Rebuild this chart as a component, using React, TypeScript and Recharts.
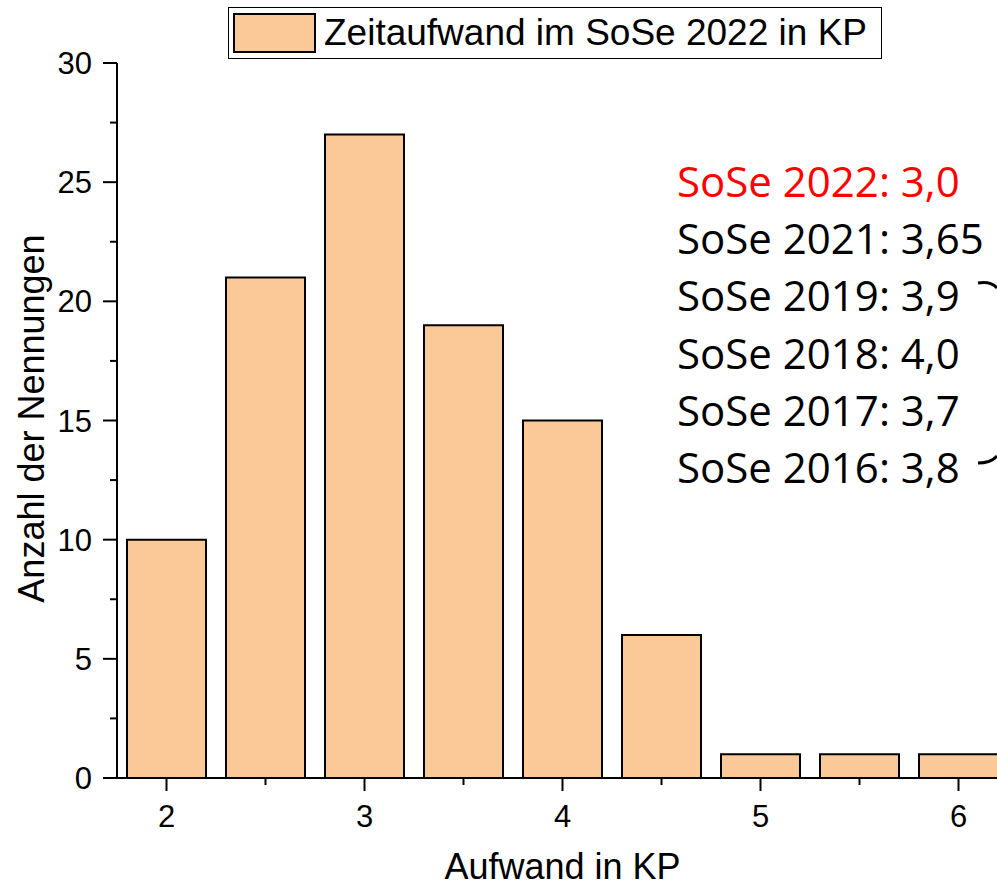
import React from "react";
import { BarChart, Bar, XAxis, YAxis } from "recharts";

// Aufwand in KP (bin centres) and Anzahl der Nennungen
const aufwand = [2, 2.5, 3, 3.5, 4, 4.5, 5, 5.5, 6];
const nennungen = [10, 21, 27, 19, 15, 6, 1, 1, 1];

const xTicks = [2, 2.5, 3, 3.5, 4, 4.5, 5, 5.5, 6];
const yTicks = [0, 2.5, 5, 7.5, 10, 12.5, 15, 17.5, 20, 22.5, 25, 27.5, 30];

const mittelwerte = [
  { label: "SoSe 2022: 3,0", color: "#FF0000" },
  { label: "SoSe 2021: 3,65", color: "#000000" },
  { label: "SoSe 2019: 3,9", color: "#000000" },
  { label: "SoSe 2018: 4,0", color: "#000000" },
  { label: "SoSe 2017: 3,7", color: "#000000" },
  { label: "SoSe 2016: 3,8", color: "#000000" },
];

const data = aufwand.map((x, i) => ({ x, count: nennungen[i] }));

const FONT = "'Liberation Sans', Arial, sans-serif";
const BAR_FILL = "#FBC897";

const XTick = (props: any) => {
  const { x, y, payload } = props;
  const major = Number.isInteger(payload.value);
  return (
    <g>
      <line x1={x} y1={y} x2={x} y2={y + (major ? 13 : 7)} stroke="#000" strokeWidth={2} />
      {major && (
        <text
          x={x}
          y={y + 49}
          textAnchor="middle"
          style={{ fontSize: 31, fontFamily: FONT, fill: "#000" }}
        >
          {payload.value}
        </text>
      )}
    </g>
  );
};

const YTick = (props: any) => {
  const { x, y, payload } = props;
  const major = payload.value % 5 === 0;
  return (
    <g>
      <line x1={x - (major ? 14 : 7)} y1={y} x2={x} y2={y} stroke="#000" strokeWidth={2} />
      {major && (
        <text
          x={x - 25}
          y={y + 11}
          textAnchor="end"
          style={{ fontSize: 31, fontFamily: FONT, fill: "#000" }}
        >
          {payload.value}
        </text>
      )}
    </g>
  );
};

const LegendBox = () => (
  <div
    style={{
      position: "absolute",
      left: 228,
      top: 7,
      display: "flex",
      alignItems: "center",
      border: "1.5px solid #000",
      background: "#fff",
      padding: "5px 14px 5px 4px",
      height: 40,
      fontFamily: FONT,
      fontSize: 37,
      color: "#000",
      whiteSpace: "nowrap",
    }}
  >
    <div
      style={{
        width: 83,
        height: 40,
        background: BAR_FILL,
        border: "2px solid #000",
        marginRight: 8,
        boxSizing: "border-box",
      }}
    />
    Zeitaufwand im SoSe 2022 in KP
  </div>
);

export default function App() {
  return (
    <div
      style={{
        position: "absolute",
        left: 0,
        top: 0,
        width: 997,
        height: 886,
        overflow: "hidden",
        background: "#fff",
      }}
    >
      <BarChart
        width={1010}
        height={886}
        data={data}
        margin={{ top: 63, right: 2, left: 0, bottom: 0 }}
      >
        <XAxis
          dataKey="x"
          type="number"
          domain={[1.75, 6.25]}
          ticks={xTicks}
          interval={0}
          height={108}
          tickSize={0}
          tickMargin={0}
          tickLine={false}
          axisLine={{ stroke: "#000", strokeWidth: 2 }}
          tick={<XTick />}
          allowDataOverflow
          label={(p: any) => {
            const vb = p.viewBox;
            return (
              <text
                x={vb.x + vb.width / 2}
                y={vb.y + 101}
                textAnchor="middle"
                style={{ fontSize: 36, fontFamily: FONT, fill: "#000" }}
              >
                Aufwand in KP
              </text>
            );
          }}
        />
        <YAxis
          type="number"
          domain={[0, 30]}
          ticks={yTicks}
          interval={0}
          width={117}
          tickSize={0}
          tickMargin={0}
          tickLine={false}
          axisLine={{ stroke: "#000", strokeWidth: 2 }}
          tick={<YTick />}
          label={(p: any) => {
            const vb = p.viewBox;
            const cx = 44;
            const cy = vb.y + vb.height / 2 - 2;
            return (
              <text
                x={cx}
                y={cy}
                transform={`rotate(-90 ${cx} ${cy})`}
                textAnchor="middle"
                style={{ fontSize: 36, fontFamily: FONT, fill: "#000" }}
              >
                Anzahl der Nennungen
              </text>
            );
          }}
        />
        <Bar
          dataKey="count"
          name="Zeitaufwand im SoSe 2022 in KP"
          fill={BAR_FILL}
          stroke="#000"
          strokeWidth={2}
          barSize={79}
          isAnimationActive={false}
        />
      </BarChart>
      <LegendBox />
      <svg
        width={997}
        height={886}
        style={{ position: "absolute", left: 0, top: 0, pointerEvents: "none" }}
      >
        {mittelwerte.map((m, i) => (
          <text
            key={m.label}
            x={677}
            y={197 + i * 57.2}
            style={{ fontSize: 42, fontFamily: "'Open Sans', 'Noto Sans', sans-serif", fill: m.color }}
          >
            {m.label}
          </text>
        ))}
        <path d="M978,283 Q991,281 997,288" fill="none" stroke="#000" strokeWidth={3} />
        <path d="M978,463 Q991,463 997,456" fill="none" stroke="#000" strokeWidth={3} />
      </svg>
    </div>
  );
}
